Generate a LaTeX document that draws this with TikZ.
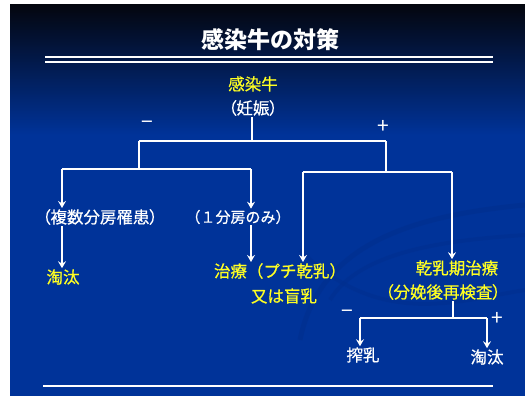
\documentclass[tikz,border=0pt]{standalone}
\usepackage{fontspec}
\setmainfont{Noto Sans CJK JP}
\newfontfamily\jpmed{Noto Sans CJK JP}[FakeBold=0.6]
\newfontfamily\jpprop{Noto Sans CJK JP}[RawFeature=+palt, FakeBold=0.6]
\usetikzlibrary{arrows.meta}
\definecolor{bgblue}{HTML}{003399}
\definecolor{topdark}{HTML}{04060F}
\definecolor{swirl}{HTML}{002F8E}
\definecolor{ylw}{HTML}{FFFF22}
\tikzset{
  txt/.style={font=\jpmed\fontsize{16.5}{18}\selectfont, inner sep=1pt},
  prop/.style={font=\jpprop\fontsize{16.5}{18}\selectfont},
  wtxt/.style={txt, text=white},
  ytxt/.style={txt, text=ylw},
  sign/.style={font=\fontsize{21}{21}\selectfont, text=white, inner sep=0pt},
  conn/.style={draw=white, line width=1.8pt},
  arr/.style={conn, -{Stealth[length=7pt,width=8pt,inset=2.5pt]}},
  rule/.style={draw=white, line width=1.3pt}
}
\begin{document}
\begin{tikzpicture}[x=1pt,y=-1pt]
\useasboundingbox (0,0) rectangle (525,396);
\fill[white] (0,0) rectangle (525,396);
\shade[top color=topdark, bottom color=bgblue] (10,5) rectangle (525,135);
\fill[bgblue] (10,134.5) rectangle (525,396);
% faint background swirls
\draw[swirl, line width=5pt, opacity=0.6] (300,340) .. controls (320,240) and (420,215) .. (525,205);
\draw[swirl, line width=4pt, opacity=0.5] (330,300) .. controls (360,250) and (450,240) .. (525,235);
\draw[swirl, line width=4pt, opacity=0.5] (300,250) .. controls (380,330) and (460,300) .. (525,290);
% title
\node[font=\bfseries\fontsize{23}{25}\selectfont, text=white, inner sep=0pt] (title) at (270,40) {感染牛の対策};
\coordinate (r1a) at (45,57); \coordinate (r1b) at (493,57);
\coordinate (r2a) at (45,62); \coordinate (r2b) at (493,62);
\draw[rule] (r1a) -- (r1b);
\draw[rule] (r2a) -- (r2b);
\coordinate (r3a) at (43,386); \coordinate (r3b) at (493,386);
\draw[rule] (r3a) -- (r3b);
% nodes
\node[ytxt] (infect) at (253,84) {感染牛};
\node[wtxt, prop] (preg) at (253,108) {（妊娠）};
\node[sign] (minus1) at (147,125) {−};
\node[sign] (plus1) at (383,127) {+};
\node[wtxt, prop] (multi) at (100,217) {（複数分房罹患）};
\node[wtxt, font=\jpmed\fontsize{15}{18}\selectfont] (one) at (238,217) {（１分房のみ）};
\node[ytxt] (cull1) at (63,277) {淘汰};
\node[ytxt] (treat) at (280,271) {治療（プチ乾乳）};
\node[ytxt] (treat2) at (284,296) {又は盲乳};
\node[ytxt] (dry) at (457,268) {乾乳期治療};
\node[ytxt, prop] (recheck) at (443,292) {（分娩後再検査）};
\node[sign] (minus2) at (347,314) {−};
\node[sign] (plus2) at (497,319) {+};
\node[wtxt] (milk) at (363,355) {搾乳};
\node[wtxt] (cull2) at (487,357) {淘汰};
% junctions
\coordinate (j0) at (252,141);
\coordinate (jL) at (139,141);
\coordinate (jR) at (386,141);
\coordinate (jLd) at (139,169);
\coordinate (jLa) at (62,169);
\coordinate (jLb) at (251,169);
\coordinate (jRd) at (386,171);
\coordinate (jRa) at (303,172);
\coordinate (jRb) at (452,172);
\coordinate (jD) at (453,318);
\coordinate (jDa) at (360,318);
\coordinate (jDb) at (487,318);
% connectors
\draw[conn] (preg.south -| j0) -- (j0);
\draw[conn] (jL) -- (jR);
\draw[conn] (jL) -- (jLd);
\draw[conn] (jLa) -- (jLb);
\draw[conn] (jR) -- (jRd);
\draw[conn] (jRa) -- (jRb);
\draw[arr] (jLa) -- (jLa |- multi.north);
\draw[arr] (jLb) -- (jLb |- one.north);
\draw[arr] (multi.south -| jLa) -- (cull1.north -| jLa);
\draw[arr] (one.south -| jLb) -- (treat.north -| jLb);
\draw[arr] (jRa) -- (jRa |- treat.north);
\draw[arr] (jRb) -- (jRb |- dry.north);
\draw[conn] (recheck.south -| jD) -- (jD);
\draw[conn] (jDa) -- (jDb);
\draw[arr] (jDa) -- (jDa |- milk.north);
\draw[arr] (jDb) -- (jDb |- cull2.north);
\end{tikzpicture}
\end{document}
